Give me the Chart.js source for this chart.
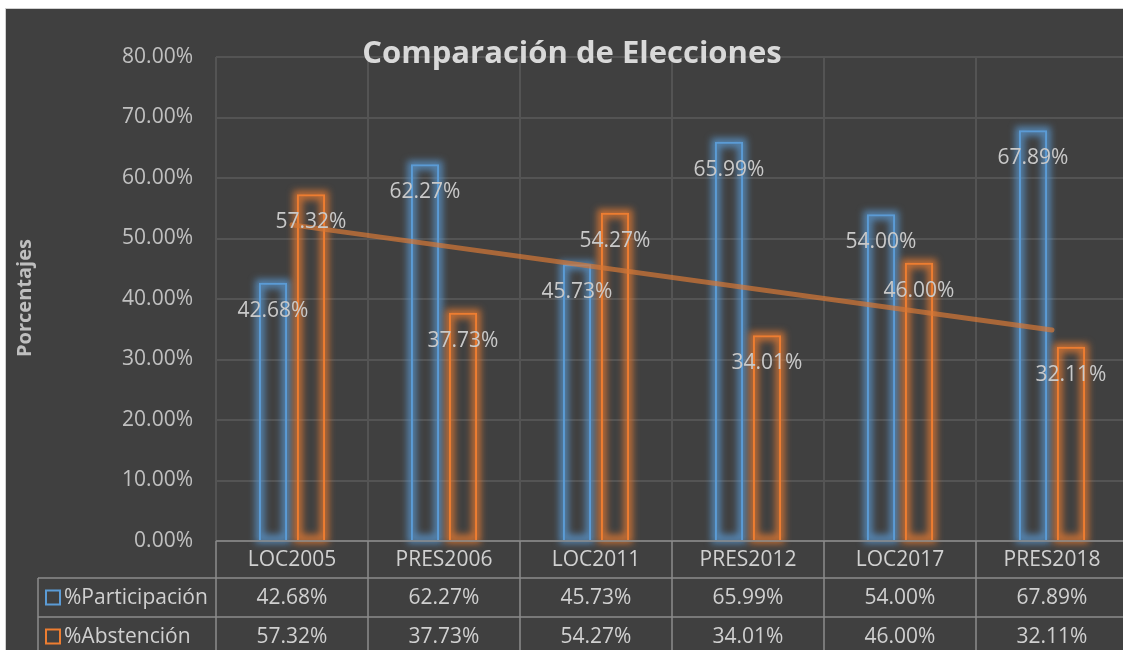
<!DOCTYPE html>
<html>
<head>
<meta charset="utf-8">
<script src="https://cdn.jsdelivr.net/npm/chart.js@4"></script>
<style>
  html, body { margin: 0; padding: 0; background: #fff; overflow: hidden; width: 1123px; height: 650px; }
  #wrap { position: absolute; left: 5px; top: 8px; width: 1131px; height: 661px;
          border-left: 1px solid #d0d0d0; border-top: 1px solid #d0d0d0; background: #404040; }
  #chart { position: absolute; left: 0; top: 0; }
</style>
</head>
<body>
<div id="wrap"><canvas id="chart" width="1130" height="660"></canvas></div>
<script>
// values
const categories = ['LOC2005', 'PRES2006', 'LOC2011', 'PRES2012', 'LOC2017', 'PRES2018'];
const participacion = [42.68, 62.27, 45.73, 65.99, 54.00, 67.89];
const abstencion = [57.32, 37.73, 54.27, 34.01, 46.00, 32.11];
// trend line end points (straight line, gaps spanned)
const tendencia = [52.25, null, null, null, null, 34.89];
const seriesNames = ['%Participación', '%Abstención'];

const BLUE = '#5b9bd5';
const ORANGE = '#ed7d31';
const FONT = '"Open Sans", "Noto Sans", sans-serif';

const fmt = v => v.toFixed(2) + '%';

// soft glow round the outlined bars
const glowPlugin = {
  id: 'glow',
  beforeDatasetsDraw(chart) {
    const ctx = chart.ctx;
    [0, 1].forEach(i => {
      const meta = chart.getDatasetMeta(i);
      const col = i === 0 ? 'rgba(91,155,213,0.75)' : 'rgba(237,125,49,0.75)';
      meta.data.forEach(bar => {
        const w = bar.width;
        ctx.save();
        ctx.filter = 'blur(3.5px)';
        ctx.strokeStyle = col;
        ctx.lineWidth = 9;
        ctx.strokeRect(bar.x - w / 2 + 1, bar.y + 1, w - 2, bar.base - bar.y - 2);
        ctx.restore();
      });
    });
  }
};

// data labels, inside end of each bar
const labelPlugin = {
  id: 'labels',
  afterDatasetsDraw(chart) {
    const ctx = chart.ctx;
    ctx.save();
    ctx.font = '21px ' + FONT;
    ctx.fillStyle = '#c9c9c9';
    ctx.textAlign = 'center';
    ctx.textBaseline = 'middle';
    [0, 1].forEach(i => {
      const meta = chart.getDatasetMeta(i);
      const vals = chart.data.datasets[i].data;
      meta.data.forEach((bar, j) => {
        ctx.fillText(fmt(vals[j]), bar.x, bar.y + 28);
      });
    });
    ctx.restore();
  }
};

// title, axis title and the data table under the plot
const tablePlugin = {
  id: 'table',
  afterDraw(chart) {
    const ctx = chart.ctx;
    const x = chart.scales.x;
    const area = chart.chartArea;
    const top = area.bottom;
    const rowH = [37, 39, 39];
    const r1 = top + rowH[0], r2 = r1 + rowH[1], r3 = r2 + rowH[2];
    const legendLeft = 32;
    const step = (area.right - area.left) / categories.length;

    ctx.save();
    ctx.strokeStyle = '#8c8c8c';
    ctx.lineWidth = 1.5;
    ctx.beginPath();
    ctx.moveTo(area.left, top); ctx.lineTo(chart.width, top);
    ctx.moveTo(legendLeft, r1); ctx.lineTo(chart.width, r1);
    ctx.moveTo(legendLeft, r2); ctx.lineTo(chart.width, r2);
    ctx.moveTo(legendLeft, r3); ctx.lineTo(chart.width, r3);
    ctx.moveTo(legendLeft, r1); ctx.lineTo(legendLeft, chart.height);
    for (let k = 0; k <= categories.length; k++) {
      const gx = area.left + k * step;
      ctx.moveTo(gx, top); ctx.lineTo(gx, chart.height);
    }
    ctx.stroke();

    ctx.font = '21px ' + FONT;
    ctx.fillStyle = '#d0d0d0';
    ctx.textAlign = 'center';
    ctx.textBaseline = 'middle';
    categories.forEach((c, j) => {
      const cx = x.getPixelForValue(j);
      ctx.fillText(c, cx, (top + r1) / 2 + 1);
      ctx.fillText(fmt(participacion[j]), cx, (r1 + r2) / 2 + 1);
      ctx.fillText(fmt(abstencion[j]), cx, (r2 + r3) / 2 + 1);
    });

    // legend keys in the table
    ctx.textAlign = 'left';
    [[BLUE, (r1 + r2) / 2], [ORANGE, (r2 + r3) / 2]].forEach(([col, cy], i) => {
      ctx.strokeStyle = col;
      ctx.lineWidth = 2;
      ctx.strokeRect(40, cy - 7, 14, 14);
      ctx.fillStyle = '#d0d0d0';
      ctx.fillText(seriesNames[i], 58, cy + 1);
    });

    // chart title, drawn over the top grid line
    ctx.font = 'bold 31px ' + FONT;
    ctx.fillStyle = '#d9d9d9';
    ctx.textAlign = 'center';
    ctx.fillText('Comparación de Elecciones', 566, 45);

    // y axis title
    ctx.translate(19, 289);
    ctx.rotate(-Math.PI / 2);
    ctx.font = 'bold 20px ' + FONT;
    ctx.fillStyle = '#bfbfbf';
    ctx.fillText('Porcentajes', 0, 0);
    ctx.restore();
  }
};

new Chart(document.getElementById('chart'), {
  type: 'bar',
  data: {
    labels: categories,
    datasets: [
      {
        label: seriesNames[0],
        data: participacion,
        backgroundColor: 'rgba(0,0,0,0)',
        borderColor: BLUE,
        borderWidth: 2,
        categoryPercentage: 0.5,
        barPercentage: 0.74,
        order: 1
      },
      {
        label: seriesNames[1],
        data: abstencion,
        backgroundColor: 'rgba(0,0,0,0)',
        borderColor: ORANGE,
        borderWidth: 2,
        categoryPercentage: 0.5,
        barPercentage: 0.74,
        order: 1
      },
      {
        type: 'line',
        label: 'Tendencia',
        data: tendencia,
        spanGaps: true,
        borderColor: 'rgba(214,120,54,0.7)',
        borderWidth: 5,
        borderCapStyle: 'round',
        pointRadius: 0,
        fill: false,
        order: 0
      }
    ]
  },
  options: {
    responsive: false,
    animation: false,
    layout: { padding: { left: 0, top: 48, right: 8, bottom: 128 } },
    plugins: {
      legend: { display: false },
      title: { display: false },
      tooltip: { enabled: false }
    },
    scales: {
      x: {
        offset: true,
        grid: { offset: true, color: '#545454', lineWidth: 2, drawTicks: false },
        border: { display: false },
        ticks: { display: false },
        afterFit: s => { s.height = 0; }
      },
      y: {
        min: 0,
        max: 80,
        grid: { color: '#545454', lineWidth: 2, drawTicks: false },
        border: { display: false },
        ticks: {
          stepSize: 10,
          padding: 23,
          color: '#c0c0c0',
          font: { family: FONT, size: 21 },
          callback: v => fmt(v)
        },
        afterFit: s => { s.width = 210; }
      }
    }
  },
  plugins: [glowPlugin, labelPlugin, tablePlugin]
});
</script>
</body>
</html>
